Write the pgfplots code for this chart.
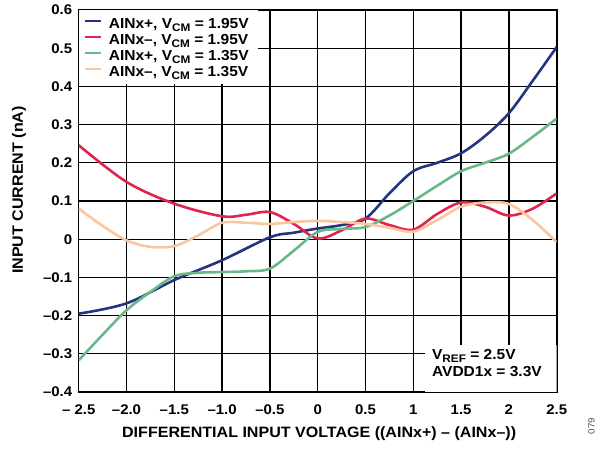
\documentclass[border=0pt]{standalone}
\usepackage{pgfplots}
\pgfplotsset{compat=1.18}
\usepackage{fontspec}
\setmainfont[FakeStretch=1.07]{Liberation Sans}
\definecolor{cblue}{RGB}{37,52,128}
\definecolor{cred}{RGB}{224,36,78}
\definecolor{cgreen}{RGB}{106,184,138}
\definecolor{cpeach}{RGB}{250,198,160}
\newcommand{\sub}[1]{\raisebox{-3.5pt}{\fontsize{11}{11}\selectfont #1}}
\begin{document}
\begin{tikzpicture}
\path (-78.7pt,-56pt) rectangle (526.3pt,392pt);
\begin{axis}[
  scale only axis,
  width=478pt, height=382pt,
  at={(0pt,0pt)}, anchor=south west,
  xmin=-2.5, xmax=2.5, ymin=-0.4, ymax=0.6,
  xtick={-2.5,-2,-1.5,-1,-0.5,0,0.5,1,1.5,2,2.5},
  xticklabels={{– 2.5},{–2.0},{–1.5},{–1.0},{–0.5},0,0.5,1,1.5,2,2.5},
  ytick={-0.4,-0.3,-0.2,-0.1,0,0.1,0.2,0.3,0.4,0.5,0.6},
  yticklabels={{–0.4},{–0.3},{–0.2},{–0.1},0,0.1,0.2,0.3,0.4,0.5,0.6},
  tick label style={font=\fontsize{14}{16}\selectfont\bfseries},
  xticklabel style={anchor=center, yshift=-18pt},
  yticklabel style={anchor=east, xshift=-3pt},
  grid=major,
  major grid style={black, line width=1.3pt},
  axis line style={black, line width=1.6pt},
  tick style={black, line width=1.2pt},
  major tick length=5pt,
  tick align=inside,
  xlabel={DIFFERENTIAL INPUT VOLTAGE ((AINx+) – (AINx–))},
  xlabel style={font=\fontsize{15}{17}\selectfont\bfseries, at={(axis description cs:0.503,0)}, anchor=center, yshift=-42pt},
  ylabel={INPUT CURRENT (nA)},
  ylabel style={font=\fontsize{15}{17}\selectfont\bfseries, at={(axis description cs:-0.1249,0.5288)}, anchor=center},
  legend style={at={(axis description cs:0,1)}, anchor=north west, draw=none, fill=none,
    font=\fontsize{14.5}{16}\selectfont\bfseries, inner xsep=5.3pt, inner ysep=7.5pt,
    row sep=2.5pt, column sep=3pt, cells={anchor=west},
    nodes={inner ysep=0pt, inner xsep=3pt, text height=10.5pt, text depth=3pt}},
  legend image code/.code={\draw[#1, line width=2.6pt] (0pt,3.5pt) -- (16pt,3.5pt);},
  every axis plot/.append style={line width=2.6pt, smooth, tension=0.55},
]
\fill[white] (axis description cs:0,0.806) rectangle (axis description cs:0.375,1);
\fill[white] (axis description cs:0.7245,0) rectangle (axis description cs:1,0.123);
\addplot[cblue] coordinates {(-2.5,-0.195) (-2.0,-0.168) (-1.5,-0.107) (-1.0,-0.055) (-0.5,0.005) (-0.25,0.017) (0,0.028) (0.25,0.037) (0.5,0.054) (0.75,0.12) (1.0,0.178) (1.25,0.2) (1.5,0.225) (1.75,0.27) (2.0,0.33) (2.25,0.415) (2.5,0.503)};
\addlegendentry{AINx+, V\sub{CM} = 1.95V}
\addplot[cred] coordinates {(-2.5,0.246) (-2.0,0.15) (-1.5,0.093) (-1.0,0.06) (-0.75,0.064) (-0.5,0.071) (-0.25,0.04) (0,0.002) (0.25,0.023) (0.5,0.054) (0.75,0.037) (1.0,0.025) (1.25,0.066) (1.5,0.096) (1.75,0.085) (2.0,0.062) (2.25,0.08) (2.5,0.12)};
\addlegendentry{AINx–, V\sub{CM} = 1.95V}
\addplot[cgreen] coordinates {(-2.5,-0.317) (-2.25,-0.25) (-2.0,-0.186) (-1.75,-0.138) (-1.5,-0.097) (-1.25,-0.088) (-1.0,-0.086) (-0.75,-0.084) (-0.5,-0.077) (-0.25,-0.03) (0,0.019) (0.25,0.027) (0.5,0.032) (0.75,0.062) (1.0,0.1) (1.25,0.14) (1.5,0.178) (1.75,0.2) (2.0,0.224) (2.25,0.268) (2.5,0.316)};
\addlegendentry{AINx+, V\sub{CM} = 1.35V}
\addplot[cpeach] coordinates {(-2.5,0.08) (-2.25,0.035) (-2.0,-0.003) (-1.75,-0.02) (-1.5,-0.018) (-1.25,0.01) (-1.0,0.043) (-0.75,0.043) (-0.5,0.04) (-0.25,0.045) (0,0.048) (0.25,0.045) (0.5,0.04) (0.75,0.03) (1.0,0.02) (1.25,0.05) (1.5,0.085) (1.75,0.096) (2.0,0.092) (2.25,0.05) (2.5,-0.008)};
\addlegendentry{AINx–, V\sub{CM} = 1.35V}
\node[anchor=base west, inner sep=0pt, font=\fontsize{14.5}{16}\selectfont\bfseries] at (axis description cs:0.739,0.0864) {V\sub{REF} = 2.5V};
\node[anchor=base west, inner sep=0pt, font=\fontsize{14.5}{16}\selectfont\bfseries] at (axis description cs:0.739,0.0393) {AVDD1x = 3.3V};
\end{axis}
\node[rotate=90, font=\fontsize{9}{10}\selectfont, text=black!70] at (512.8pt,-34pt) {079};
\end{tikzpicture}
\end{document}
